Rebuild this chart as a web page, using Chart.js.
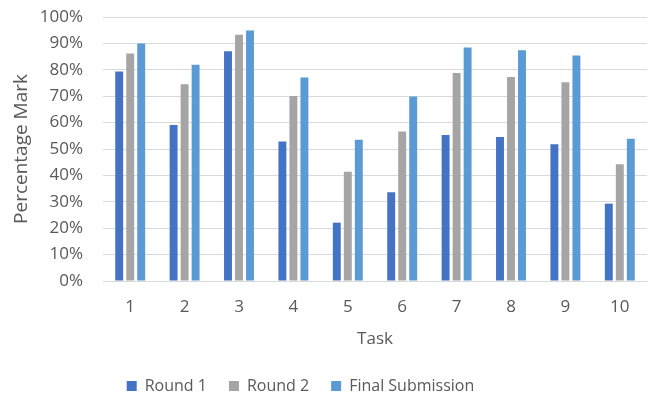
<!DOCTYPE html>
<html>
<head>
<meta charset="utf-8">
<script src="https://cdn.jsdelivr.net/npm/chart.js@4"></script>
<style>
  html, body { margin: 0; padding: 0; background: #fff; }
  #wrap { width: 655px; height: 396px; }
</style>
</head>
<body>
<div id="wrap"><canvas id="myChart" width="655" height="396"></canvas></div>
<script>
// categories (tasks)
const tasks = ['1', '2', '3', '4', '5', '6', '7', '8', '9', '10'];

// percentage marks
const round1 = [79.4, 59.1, 87.0, 52.8, 22.1, 33.6, 55.3, 54.5, 51.8, 29.3];
const round2 = [86.2, 74.5, 93.3, 70.1, 41.4, 56.6, 78.8, 77.3, 75.3, 44.2];
const finalSubmission = [90.0, 81.9, 94.9, 77.1, 53.5, 69.9, 88.4, 87.4, 85.4, 53.9];

const textColor = '#595959';
const fontFamily = "'Open Sans', 'Liberation Sans', sans-serif";

// legend in the reference sits a bit left of centre and lower down
const shiftLegend = {
    id: 'shiftLegend',
    afterLayout(chart) {
        const lg = chart.legend;
        if (!lg) return;
        lg.left -= 25; lg.right -= 25;
        lg.top += 7; lg.bottom += 7;
    }
};

const ctx = document.getElementById('myChart');

const chart = new Chart(ctx, {
    type: 'bar',
    data: {
        labels: tasks,
        datasets: [
            { label: 'Round 1', data: round1, backgroundColor: '#4472C4' },
            { label: 'Round 2', data: round2, backgroundColor: '#A5A5A5' },
            { label: 'Final Submission', data: finalSubmission, backgroundColor: '#5B9BD5' },
        ],
    },
    plugins: [shiftLegend],
    options: {
        responsive: false,
        animation: false,
        categoryPercentage: 0.607,
        barPercentage: 0.72,
        layout: { padding: { top: 17, right: 8, left: 4, bottom: -1 } },
        plugins: {
            tooltip: { enabled: false },
            legend: {
                display: true,
                position: 'bottom',
                labels: {
                    color: textColor,
                    font: { family: fontFamily, size: 16 },
                    boxWidth: 10,
                    boxHeight: 10,
                    padding: 22,
                },
            },
        },
        scales: {
            x: {
                grid: { display: false },
                border: { display: true, color: '#d9d9d9', width: 1 },
                ticks: {
                    color: textColor,
                    font: { family: fontFamily, size: 17 },
                    padding: 8,
                },
                title: {
                    display: true,
                    text: 'Task',
                    color: textColor,
                    font: { family: fontFamily, size: 17 },
                    padding: { top: 0, bottom: 0 },
                },
                afterFit: (scale) => { scale.height = 68; },
            },
            y: {
                min: 0,
                max: 100,
                grid: { color: '#d9d9d9', lineWidth: 1, drawTicks: false },
                border: { display: false },
                ticks: {
                    stepSize: 10,
                    color: textColor,
                    font: { family: fontFamily, size: 17 },
                    padding: 20,
                    callback: (v) => v + '%',
                },
                title: {
                    display: true,
                    text: 'Percentage Mark',
                    color: textColor,
                    font: { family: fontFamily, size: 19 },
                    padding: { top: 6, bottom: 0 },
                },
                afterFit: (scale) => {
                    scale.width = 99;
                    scale.paddingTop = 0;
                    scale.paddingBottom = 0;
                },
            },
        },
    },
});
</script>
</body>
</html>
